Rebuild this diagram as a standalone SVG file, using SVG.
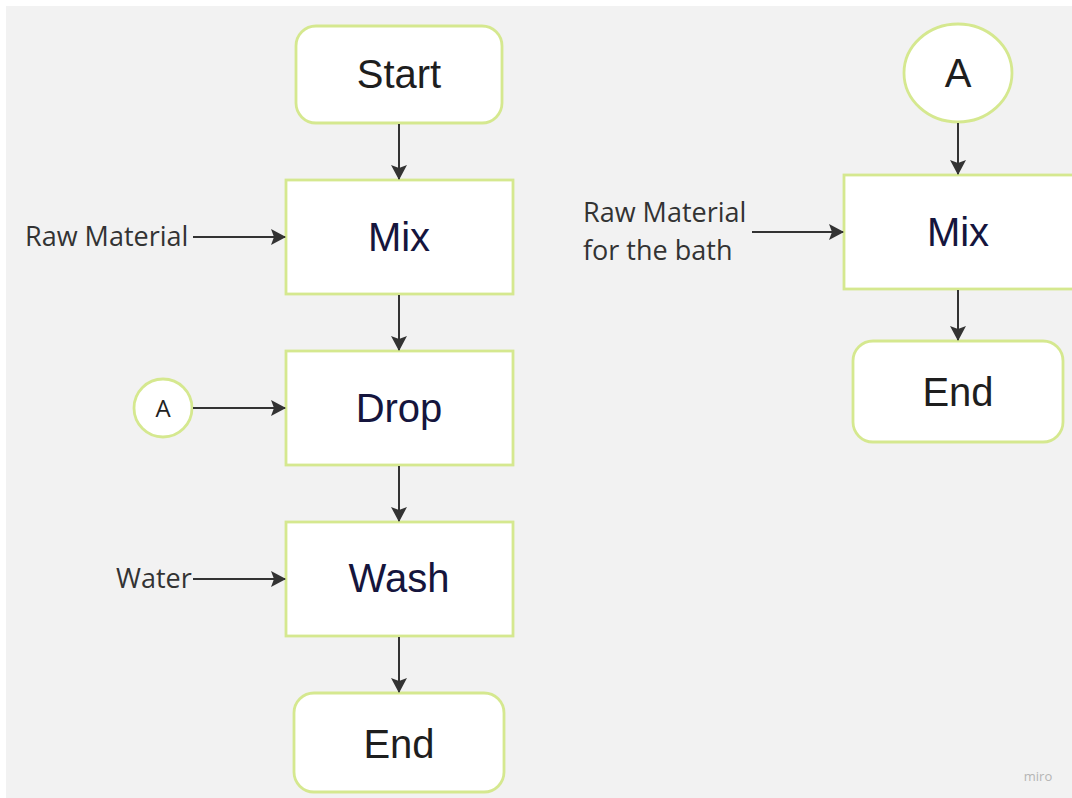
<svg xmlns="http://www.w3.org/2000/svg" width="1072" height="798" viewBox="0 0 1072 798">
  <defs>
    <marker id="arrow" viewBox="0 0 15 16" refX="14" refY="8" markerWidth="15" markerHeight="16" markerUnits="userSpaceOnUse" orient="auto">
      <path d="M0,0 L15,8 L0,16 L3,8 Z" fill="#333333"/>
    </marker>
  </defs>
  <style>
    .node { fill: #ffffff; stroke: #d5e88f; stroke-width: 2.8; }
    .big { font-family: "Liberation Sans", Arial, sans-serif; font-size: 40px; text-anchor: middle; }
    .term { fill: #1e1e1e; }
    .proc { fill: #15153d; }
    .lbl { font-family: "Open Sans", "Noto Sans", sans-serif; font-size: 27px; fill: #333333; }
    .conn { stroke: #333333; stroke-width: 2; fill: none; marker-end: url(#arrow); }
  </style>

  <rect x="0" y="0" width="1072" height="798" fill="#ffffff"/>
  <rect x="6" y="6" width="1066" height="792" fill="#f2f2f2"/>

  <!-- main flow -->
  <g id="start">
    <rect class="node" x="296" y="26" width="206" height="97" rx="20"/>
    <text class="big term" x="399" y="88">Start</text>
  </g>
  <g id="mix">
    <rect class="node" x="286" y="180" width="227" height="114"/>
    <text class="big proc" x="399" y="251">Mix</text>
  </g>
  <g id="drop">
    <rect class="node" x="286" y="351" width="227" height="114"/>
    <text class="big proc" x="399" y="422">Drop</text>
  </g>
  <g id="wash">
    <rect class="node" x="286" y="522" width="227" height="114"/>
    <text class="big proc" x="399" y="592">Wash</text>
  </g>
  <g id="end">
    <rect class="node" x="294" y="693" width="210" height="99" rx="20"/>
    <text class="big term" x="399" y="758">End</text>
  </g>
  <g id="raw-material">
    <text class="lbl" x="25" y="246">Raw Material</text>
  </g>
  <g id="connector-a">
    <circle class="node" cx="163" cy="408" r="29"/>
    <text x="163" y="417" font-family="'Open Sans', 'Noto Sans', sans-serif" font-size="24" fill="#222222" text-anchor="middle">A</text>
  </g>
  <g id="water">
    <text class="lbl" x="116" y="588">Water</text>
  </g>

  <!-- bath flow -->
  <g id="connector-a-in">
    <ellipse class="node" cx="958" cy="73" rx="54" ry="49"/>
    <text class="big term" x="958" y="87">A</text>
  </g>
  <g id="bath-mix">
    <rect class="node" x="844" y="175" width="232" height="114"/>
    <text class="big proc" x="958" y="246">Mix</text>
  </g>
  <g id="bath-end">
    <rect class="node" x="853" y="341" width="210" height="101" rx="20"/>
    <text class="big term" x="958" y="406">End</text>
  </g>
  <g id="bath-material">
    <text class="lbl" x="583" y="222">Raw Material</text>
    <text class="lbl" x="583" y="260">for the bath</text>
  </g>

  <g id="connectors">
    <line class="conn" x1="399" y1="124" x2="399" y2="179"/>
    <line class="conn" x1="399" y1="295" x2="399" y2="350"/>
    <line class="conn" x1="399" y1="466" x2="399" y2="521"/>
    <line class="conn" x1="399" y1="637" x2="399" y2="692"/>
    <line class="conn" x1="193" y1="237" x2="285" y2="237"/>
    <line class="conn" x1="193" y1="408" x2="285" y2="408"/>
    <line class="conn" x1="193" y1="579" x2="285" y2="579"/>
    <line class="conn" x1="958" y1="123" x2="958" y2="174"/>
    <line class="conn" x1="958" y1="290" x2="958" y2="340"/>
    <line class="conn" x1="752" y1="232" x2="843" y2="232"/>
  </g>

  <text x="1038" y="781" font-family="'Open Sans', 'Noto Sans', sans-serif" font-size="13" fill="#b5b5b5" text-anchor="middle">miro</text>
</svg>
